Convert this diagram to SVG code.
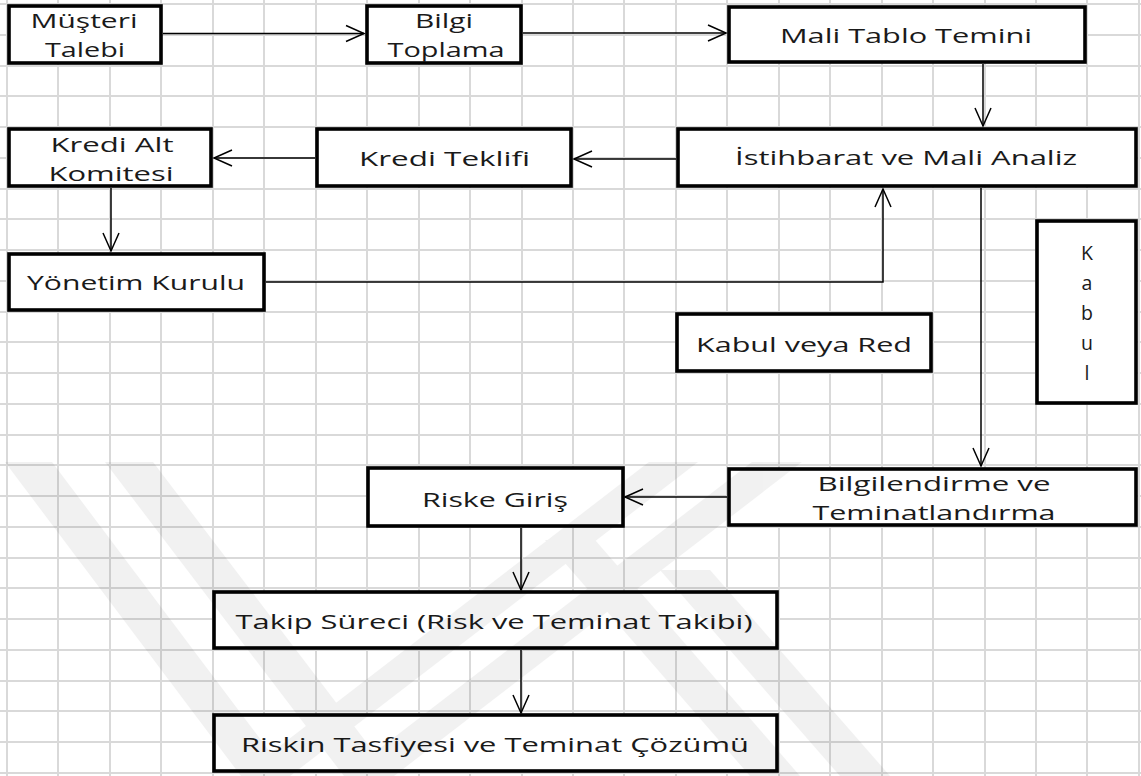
<svg xmlns="http://www.w3.org/2000/svg" width="1141" height="776" viewBox="0 0 1141 776">
<defs>
<style>
.grid{fill:none;stroke:#d9d9d9;stroke-width:2}
.box{fill:#fff;stroke:#000;stroke-width:3.6}
.t{font-family:"Open Sans","Noto Sans","DejaVu Sans",sans-serif;font-size:19.5px;fill:#1a1a1a;text-anchor:middle}
.c{fill:none;stroke:#000;stroke-width:1.5}
.wm{fill:#000}
</style>
<marker id="arr" markerWidth="20" markerHeight="18" refX="18" refY="8" orient="auto" markerUnits="userSpaceOnUse" overflow="visible">
<path d="M0,0 L18,8 L0,16" fill="none" stroke="#000" stroke-width="1.5"/>
</marker>
</defs>
<rect width="1141" height="776" fill="#fff"/>
<path class="grid" d="M7,0V776M58,0V776M110,0V776M161,0V776M213,0V776M264,0V776M316,0V776M367,0V776M419,0V776M470,0V776M522,0V776M573,0V776M624,0V776M676,0V776M727,0V776M779,0V776M830,0V776M882,0V776M933,0V776M985,0V776M1036,0V776M1087,0V776M1139,0V776
M0,4H1141M0,35H1141M0,66H1141M0,96H1141M0,127H1141M0,158H1141M0,189H1141M0,219H1141M0,250H1141M0,281H1141M0,312H1141M0,342H1141M0,373H1141M0,404H1141M0,435H1141M0,465H1141M0,496H1141M0,527H1141M0,558H1141M0,588H1141M0,619H1141M0,650H1141M0,681H1141M0,711H1141M0,742H1141M0,773H1141"/>
<g id="connectors">
<path class="c" d="M163,33.5H364" marker-end="url(#arr)"/>
<path class="c" d="M523,33H726" marker-end="url(#arr)"/>
<path class="c" d="M983,64V126" marker-end="url(#arr)"/>
<path class="c" d="M676,159H574" marker-end="url(#arr)"/>
<path class="c" d="M315,158H214" marker-end="url(#arr)"/>
<path class="c" d="M111,188V251" marker-end="url(#arr)"/>
<path class="c" d="M266,282H883V189" marker-end="url(#arr)"/>
<path class="c" d="M981,188V466" marker-end="url(#arr)"/>
<path class="c" d="M727,497H625" marker-end="url(#arr)"/>
<path class="c" d="M521,528V590" marker-end="url(#arr)"/>
<path class="c" d="M521,650V713" marker-end="url(#arr)"/>
</g>
<g id="musteri-talebi"><rect class="box" x="9" y="6" width="152" height="57"/>
<text class="t" x="84" y="28" textLength="107" lengthAdjust="spacingAndGlyphs">Müşteri</text>
<text class="t" x="85" y="57" textLength="80" lengthAdjust="spacingAndGlyphs">Talebi</text></g>
<g id="bilgi-toplama"><rect class="box" x="367" y="6" width="154" height="57"/>
<text class="t" x="444" y="28" textLength="58" lengthAdjust="spacingAndGlyphs">Bilgi</text>
<text class="t" x="446" y="57" textLength="117" lengthAdjust="spacingAndGlyphs">Toplama</text></g>
<g id="mali-tablo"><rect class="box" x="729" y="7" width="356" height="55"/>
<text class="t" x="906" y="43" textLength="252" lengthAdjust="spacingAndGlyphs">Mali Tablo Temini</text></g>
<g id="istihbarat"><rect class="box" x="678" y="129" width="458" height="57"/>
<text class="t" x="906" y="165" textLength="342" lengthAdjust="spacingAndGlyphs">İstihbarat ve Mali Analiz</text></g>
<g id="kredi-teklifi"><rect class="box" x="317" y="129" width="254" height="57"/>
<text class="t" x="444.5" y="166" textLength="171" lengthAdjust="spacingAndGlyphs">Kredi Teklifi</text></g>
<g id="kredi-alt-komitesi"><rect class="box" x="9" y="129" width="202" height="57"/>
<text class="t" x="112" y="152" textLength="123" lengthAdjust="spacingAndGlyphs">Kredi Alt</text>
<text class="t" x="111" y="181" textLength="125" lengthAdjust="spacingAndGlyphs">Komitesi</text></g>
<g id="yonetim-kurulu"><rect class="box" x="9" y="254" width="255" height="56"/>
<text class="t" x="136" y="290" textLength="218" lengthAdjust="spacingAndGlyphs">Yönetim Kurulu</text></g>
<g id="kabul-veya-red"><rect class="box" x="677" y="314" width="254" height="57"/>
<text class="t" x="804" y="352" textLength="216" lengthAdjust="spacingAndGlyphs">Kabul veya Red</text></g>
<g id="kabul"><rect class="box" x="1037" y="221" width="99" height="182"/>
<text class="t" x="1087" y="260">K</text>
<text class="t" x="1087" y="290">a</text>
<text class="t" x="1087" y="320">b</text>
<text class="t" x="1087" y="350">u</text>
<text class="t" x="1087" y="380">l</text></g>
<g id="bilgilendirme"><rect class="box" x="729" y="469" width="407" height="56"/>
<text class="t" x="934" y="491" textLength="233" lengthAdjust="spacingAndGlyphs">Bilgilendirme ve</text>
<text class="t" x="934" y="520" textLength="243" lengthAdjust="spacingAndGlyphs">Teminatlandırma</text></g>
<g id="riske-giris"><rect class="box" x="368" y="468" width="255" height="58"/>
<text class="t" x="495" y="507" textLength="146" lengthAdjust="spacingAndGlyphs">Riske Giriş</text></g>
<g id="takip-sureci"><rect class="box" x="214" y="592" width="563" height="56"/>
<text class="t" x="494" y="629" textLength="517" lengthAdjust="spacingAndGlyphs">Takip Süreci (Risk ve Teminat Takibi)</text></g>
<g id="riskin-tasfiyesi"><rect class="box" x="214" y="715" width="563" height="56"/>
<text class="t" x="495" y="752" textLength="508" lengthAdjust="spacingAndGlyphs">Riskin Tasfiyesi ve Teminat Çözümü</text></g>
<g id="watermark" opacity="0.05">
<polygon class="wm" points="5,462 52,462 288,776 241,776"/>
<polygon class="wm" points="241,776 290,776 698,462 649,462"/>
<polygon class="wm" points="105,462 153,462 392,776 344,776"/>
<polygon class="wm" points="344,776 394,776 802,462 752,462"/>
<polygon class="wm" points="545,540 595,540 800,776 750,776"/>
<polygon class="wm" points="660,570 710,570 890,776 840,776"/>
</g>
</svg>
